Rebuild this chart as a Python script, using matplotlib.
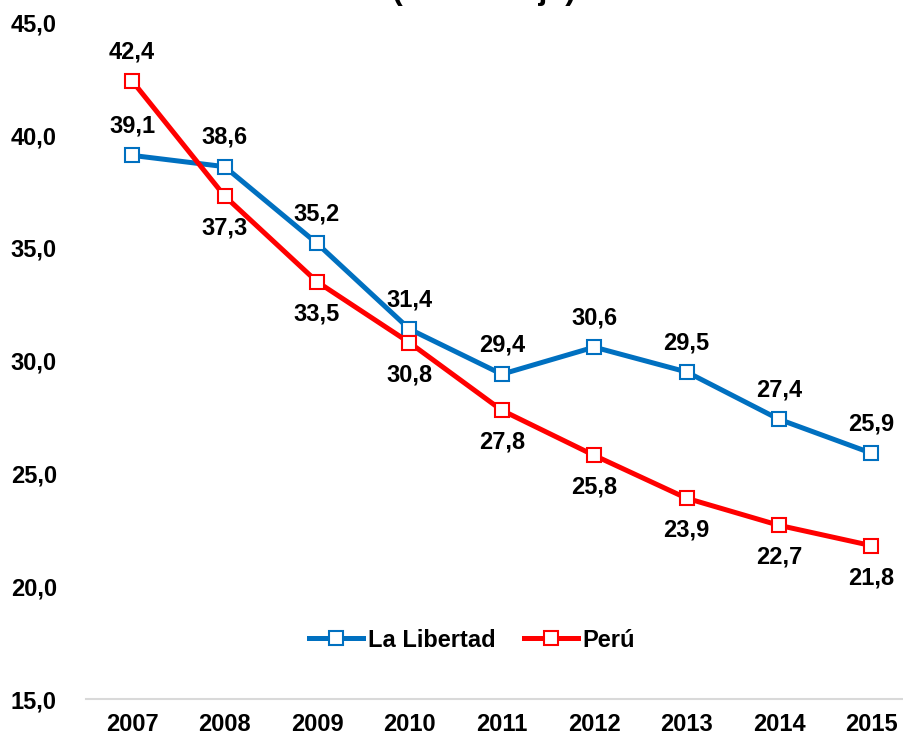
import matplotlib.pyplot as plt

plt.rcParams['font.family'] = ['Liberation Sans', 'DejaVu Sans']
plt.rcParams['font.weight'] = 'bold'

years = ["2007", "2008", "2009", "2010", "2011", "2012", "2013", "2014", "2015"]
la_libertad = [39.1, 38.6, 35.2, 31.4, 29.4, 30.6, 29.5, 27.4, 25.9]
peru = [42.4, 37.3, 33.5, 30.8, 27.8, 25.8, 23.9, 22.7, 21.8]

blue = "#0070C0"
red = "#FF0000"

fig = plt.figure(figsize=(9.04, 7.38), dpi=100)
ax = fig.add_axes([0.0951, 0.0528, 0.920, 0.917])
x = range(len(years))

ax.plot(x, la_libertad, color=blue, lw=3.6, marker='s', ms=10,
        mfc='white', mec=blue, mew=1.5, label="La Libertad", zorder=3)
ax.plot(x, peru, color=red, lw=3.6, marker='s', ms=10,
        mfc='white', mec=red, mew=1.5, label="Perú", zorder=3)

def fmt(v):
    return f"{v:.1f}".replace(".", ",")

for i, v in enumerate(la_libertad):
    ax.annotate(fmt(v), (i, v), xytext=(0, 21), textcoords='offset points',
                ha='center', va='center', fontsize=17, fontweight='bold')
for i, v in enumerate(peru):
    dy = 21 if i == 0 else -23
    ax.annotate(fmt(v), (i, v), xytext=(0, dy), textcoords='offset points',
                ha='center', va='center', fontsize=17, fontweight='bold')

ax.set_xlim(-0.5, len(years) - 0.5)
ax.set_ylim(15, 45)
ax.set_xticks(list(x))
ax.set_xticklabels(years, fontsize=17, fontweight='bold')
yt = [15, 20, 25, 30, 35, 40, 45]
ax.set_yticks(yt)
ax.set_yticklabels([fmt(v) for v in yt], fontsize=17, fontweight='bold')
ax.tick_params(length=0)
ax.tick_params(axis='x', pad=10)
ax.tick_params(axis='y', pad=21)

for s in ['top', 'right', 'left']:
    ax.spines[s].set_visible(False)
ax.spines['bottom'].set_color('#D9D9D9')
ax.spines['bottom'].set_linewidth(1.5)

ax.legend(loc='center', bbox_to_anchor=(0.464, 0.087), ncol=2, frameon=False,
          handlelength=2.3, handletextpad=0.2, columnspacing=1.2,
          prop={'weight': 'bold', 'size': 17})

fig.text(0.535, 1.012, "(Porcentaje)", ha='center', va='center',
         fontsize=23, fontweight='bold')

fig.savefig("out.png", dpi=100)
